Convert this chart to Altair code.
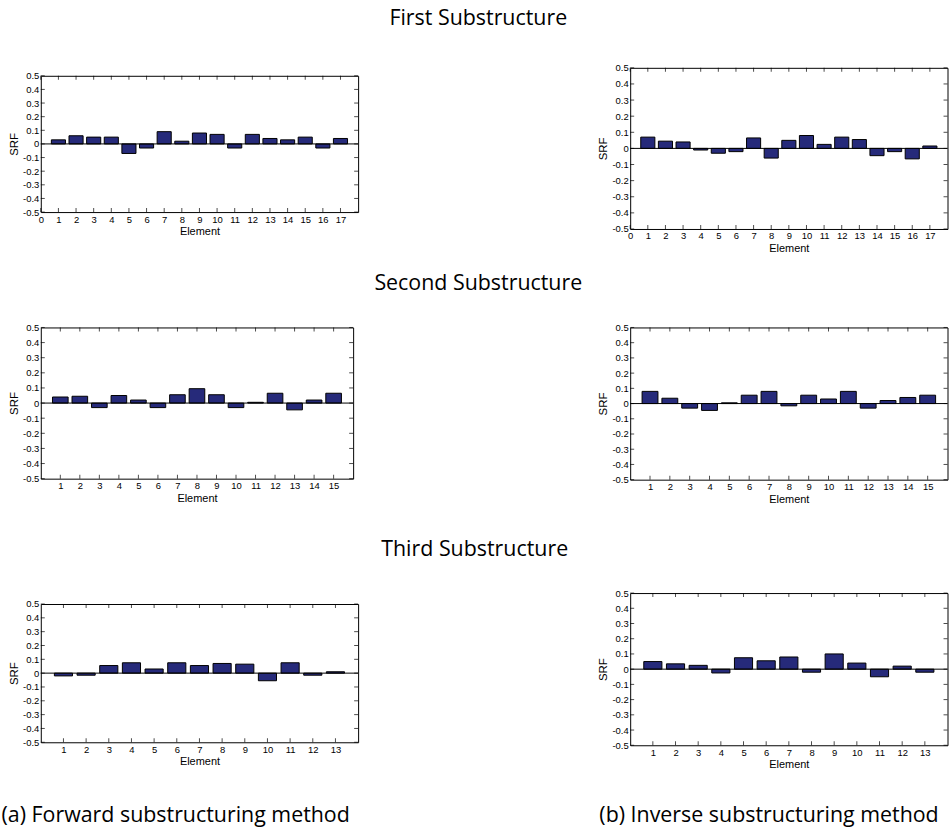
import altair as alt
import pandas as pd

# ---------------- data ----------------
elements_first = list(range(1, 18))
elements_second = list(range(1, 16))
elements_third = list(range(1, 14))

srf_first_forward = [0.03, 0.06, 0.05, 0.05, -0.07, -0.03, 0.09, 0.02, 0.08, 0.07,
                     -0.03, 0.07, 0.04, 0.03, 0.05, -0.03, 0.04]
srf_first_inverse = [0.07, 0.045, 0.04, -0.01, -0.03, -0.02, 0.065, -0.06, 0.05, 0.08,
                     0.025, 0.07, 0.055, -0.045, -0.02, -0.065, 0.015]
srf_second_forward = [0.04, 0.045, -0.03, 0.05, 0.02, -0.03, 0.055, 0.095, 0.055, -0.03,
                      0.005, 0.065, -0.045, 0.02, 0.065]
srf_second_inverse = [0.08, 0.035, -0.03, -0.045, 0.005, 0.055, 0.08, -0.015, 0.055, 0.03,
                      0.08, -0.03, 0.02, 0.04, 0.055]
srf_third_forward = [-0.02, -0.015, 0.055, 0.075, 0.03, 0.075, 0.055, 0.07, 0.065, -0.055,
                     0.075, -0.015, 0.01]
srf_third_inverse = [0.05, 0.035, 0.025, -0.025, 0.075, 0.055, 0.08, -0.02, 0.1, 0.04,
                     -0.05, 0.02, -0.02]

x_ticks_first = list(range(0, 18))
x_ticks_second = list(range(1, 16))
x_ticks_third = list(range(1, 14))
y_ticks = [-0.5, -0.4, -0.3, -0.2, -0.1, 0, 0.1, 0.2, 0.3, 0.4, 0.5]

row_titles = ["First Substructure", "Second Substructure", "Third Substructure"]
captions = ["(a) Forward substructuring method", "(b) Inverse substructuring method"]

# ---------------- style ----------------
BAR = "#262a7a"
LABEL_FONT = "Liberation Sans"
TITLE_FONT = "Open Sans"
BIG = 21.5
Y_LABEL_EXPR = ("datum.value == 0 ? '0' : (datum.value < 0 ? '-' + format(-datum.value, '.1f')"
                " : format(datum.value, '.1f'))")


def panel(elements, values, x_max, x_ticks, w, h, caption=None, cap_offset=0, cap_dx=0):
    xs = alt.Scale(domain=[0, x_max], nice=False, zero=False)
    ys = alt.Scale(domain=[-0.5, 0.5], nice=False, zero=False)
    x_axis = alt.Axis(values=x_ticks, tickCount=100, ticks=False, domain=False, grid=False,
                      labelFlush=False, labelOverlap=False, labelPadding=2, labelFontSize=9.5,
                      titleFontSize=11, titlePadding=2, format="d")
    y_axis = alt.Axis(values=y_ticks, tickCount=100, ticks=False, domain=False, grid=False,
                      labelFlush=False, labelOverlap=False, labelPadding=2, labelFontSize=9.5,
                      labelExpr=Y_LABEL_EXPR, titleFontSize=11.5, titlePadding=3)

    def X(field):
        return alt.X(field, type="quantitative", scale=xs, axis=x_axis, title="Element")

    def Y(field):
        return alt.Y(field, type="quantitative", scale=ys, axis=y_axis, title="SRF")

    df = pd.DataFrame({"Element": elements, "SRF": values})
    bars = alt.Chart(df).transform_calculate(
        lo="datum.Element - 0.4", hi="datum.Element + 0.4", base="0"
    ).mark_bar(color=BAR, stroke="black", strokeWidth=1).encode(
        x=X("lo"), x2="hi", y=Y("SRF"), y2="base"
    )
    zero = alt.Chart(pd.DataFrame({"v": [0]})).mark_rule(color="black", strokeWidth=1).encode(
        y=Y("v")
    )
    xt = pd.DataFrame({"t": x_ticks})
    yt = pd.DataFrame({"t": y_ticks})
    top = alt.Chart(xt).mark_tick(orient="vertical", size=4, thickness=1, color="black",
                                  yOffset=2).encode(x=X("t"), y=alt.datum(0.5))
    bottom = alt.Chart(xt).mark_tick(orient="vertical", size=4, thickness=1, color="black",
                                     yOffset=-2).encode(x=X("t"), y=alt.datum(-0.5))
    left = alt.Chart(yt).mark_tick(orient="horizontal", size=4, thickness=1, color="black",
                                   xOffset=2).encode(y=Y("t"), x=alt.datum(0))
    right = alt.Chart(yt).mark_tick(orient="horizontal", size=4, thickness=1, color="black",
                                    xOffset=-2).encode(y=Y("t"), x=alt.datum(x_max))
    chart = alt.layer(bars, zero, top, bottom, left, right).properties(width=w, height=h)
    if caption:
        chart = chart.properties(title=alt.TitleParams(
            caption, orient="bottom", anchor="middle", frame="bounds", offset=cap_offset,
            dx=cap_dx, fontSize=BIG, font=TITLE_FONT, fontWeight="normal", color="black"))
    return chart


def spacer(h, w=1):
    return alt.Chart(pd.DataFrame({"s": [0]})).mark_point(size=0, opacity=0).encode(
        x=alt.value(0), y=alt.value(0)
    ).properties(width=w, height=h, view=alt.ViewBackground(stroke="transparent"))


def row_title(text, offset):
    return alt.TitleParams(text, anchor="middle", offset=offset, fontSize=BIG, font=TITLE_FONT,
                           fontWeight="normal", color="black")


p1 = panel(elements_first, srf_first_forward, 18, x_ticks_first, 319, 137)
p2 = panel(elements_first, srf_first_inverse, 18, x_ticks_first, 319, 162)
p3 = panel(elements_second, srf_second_forward, 16, x_ticks_second, 314, 152)
p4 = panel(elements_second, srf_second_inverse, 16, x_ticks_second, 319, 153)
p5 = panel(elements_third, srf_third_forward, 14, x_ticks_third, 319, 139,
           caption=captions[0], cap_offset=39, cap_dx=-8)
p6 = panel(elements_third, srf_third_inverse, 14, x_ticks_third, 319, 153,
           caption=captions[1], cap_offset=36, cap_dx=-4)

row1 = alt.hconcat(alt.vconcat(spacer(1), p1, spacing=0), p2, spacing=239.5,
                   title=row_title(row_titles[0], 33))
row2 = alt.hconcat(p3, p4, spacing=244.5,
                   title=row_title(row_titles[1], 28))
row3 = alt.hconcat(alt.vconcat(spacer(4), p5, spacing=0), p6, spacing=239.5,
                   title=row_title(row_titles[2], 27))

chart = alt.vconcat(row1, spacer(17), row2, spacer(33), row3, spacing=0).properties(
    padding={"left": 0, "top": 6, "right": 0, "bottom": 0},
    background="white",
).configure_view(stroke="black", strokeWidth=1).configure_axis(
    labelFont=LABEL_FONT, titleFont=LABEL_FONT, labelColor="black", titleColor="black",
    titleFontWeight="normal", labelOverlap=False, labelFlush=False, labelBound=False
).configure_title(font=TITLE_FONT, fontWeight="normal", color="black")

chart.save("out.html", embed_options={"renderer": "svg", "actions": False})
